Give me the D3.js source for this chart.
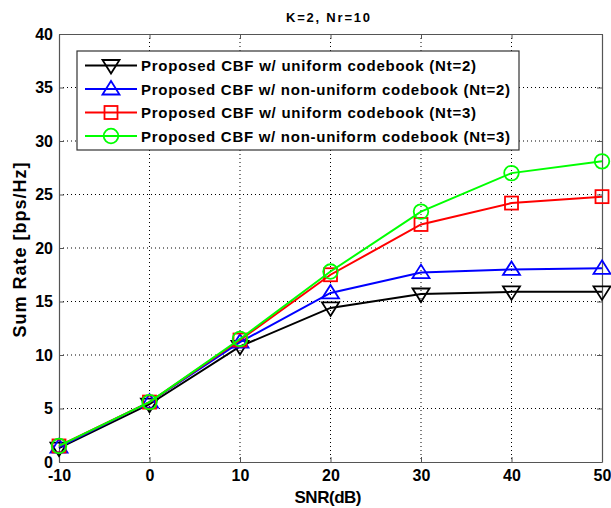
<!DOCTYPE html>
<html>
<head>
<meta charset="utf-8">
<script src="https://cdn.jsdelivr.net/npm/d3@7"></script>
<style>
  body { margin: 0; background: #fff; }
  text { font-family: "Liberation Sans", Arial, sans-serif; font-weight: bold; }
</style>
</head>
<body>
<div id="chart"></div>
<script>
// values
const snr = [-10, 0, 10, 20, 30, 40, 50];
const uniNt2 = [1.3, 5.4, 10.8, 14.4, 15.7, 15.9, 15.9];
const nonUniNt2 = [1.4, 5.6, 11.2, 15.8, 17.7, 18.0, 18.1];
const uniNt3 = [1.5, 5.6, 11.4, 17.5, 22.2, 24.2, 24.8];
const nonUniNt3 = [1.5, 5.6, 11.5, 17.8, 23.4, 27.0, 28.1];
const xTicks = [-10, 0, 10, 20, 30, 40, 50];
const yTicks = [0, 5, 10, 15, 20, 25, 30, 35, 40];

const series = [
  { name: "Proposed CBF w/ uniform codebook (Nt=2)", vals: uniNt2, color: "#000000", marker: "down" },
  { name: "Proposed CBF w/ non-uniform codebook (Nt=2)", vals: nonUniNt2, color: "#0000ff", marker: "up" },
  { name: "Proposed CBF w/ uniform codebook (Nt=3)", vals: uniNt3, color: "#ff0000", marker: "square" },
  { name: "Proposed CBF w/ non-uniform codebook (Nt=3)", vals: nonUniNt3, color: "#00ff00", marker: "circle" }
];

const W = 611, H = 508;
const mLeft = 59, mRight = 602, mTop = 34, mBottom = 462;

const svg = d3.select('#chart')
    .append('svg')
    .attr('width', W)
    .attr('height', H)
    .style('background-color', 'white');

const x = d3.scaleLinear().domain([-10, 50]).range([mLeft, mRight]);
const y = d3.scaleLinear().domain([0, 40]).range([mBottom, mTop]);

// grid lines (dotted)
svg.append('g')
  .selectAll('line')
  .data(xTicks.slice(1, -1))
  .enter().append('line')
  .attr('x1', d => x(d)).attr('x2', d => x(d))
  .attr('y1', mTop).attr('y2', mBottom)
  .attr('stroke', '#000').attr('stroke-width', 1)
  .attr('stroke-dasharray', '1,3');

svg.append('g')
  .selectAll('line')
  .data(yTicks.slice(1, -1))
  .enter().append('line')
  .attr('x1', mLeft).attr('x2', mRight)
  .attr('y1', d => y(d)).attr('y2', d => y(d))
  .attr('stroke', '#000').attr('stroke-width', 1)
  .attr('stroke-dasharray', '1,3');

// axes with inward ticks
const fmt = d => String(d);
const xAxis = svg.append('g')
  .attr('transform', `translate(0,${mBottom})`)
  .call(d3.axisBottom(x).tickValues(xTicks).tickFormat(fmt).tickSizeInner(-5).tickSizeOuter(0).tickPadding(8));
const xAxisTop = svg.append('g')
  .attr('transform', `translate(0,${mTop})`)
  .call(d3.axisTop(x).tickValues(xTicks).tickSizeInner(-5).tickSizeOuter(0).tickFormat(''));
const yAxis = svg.append('g')
  .attr('transform', `translate(${mLeft},0)`)
  .call(d3.axisLeft(y).tickValues(yTicks).tickFormat(fmt).tickSizeInner(-5).tickSizeOuter(0).tickPadding(6));
const yAxisRight = svg.append('g')
  .attr('transform', `translate(${mRight},0)`)
  .call(d3.axisRight(y).tickValues(yTicks).tickSizeInner(-5).tickSizeOuter(0).tickFormat(''));

[xAxis, xAxisTop, yAxis, yAxisRight].forEach(a => {
  a.select('.domain').attr('stroke', '#555').attr('stroke-width', 1.2);
  a.selectAll('.tick line').attr('stroke', '#555');
  a.selectAll('.tick text').attr('fill', '#000').style('font-size', '16px')
    .style('font-family', '"Liberation Sans", Arial, sans-serif').style('font-weight', 'bold');
});

// marker drawing
function drawMarker(g, type, color) {
  if (type === 'circle') {
    g.append('circle').attr('r', 7.3);
  } else if (type === 'square') {
    g.append('rect').attr('x', -6.5).attr('y', -6.5).attr('width', 13).attr('height', 13);
  } else if (type === 'up') {
    g.append('path').attr('d', 'M0,-8L8.5,5.5L-8.5,5.5Z');
  } else {
    g.append('path').attr('d', 'M0,8L8.5,-5.5L-8.5,-5.5Z');
  }
  g.selectAll('*').attr('fill', 'none').attr('stroke', color).attr('stroke-width', 1.8);
}

const line = d3.line().x((d, i) => x(snr[i])).y(d => y(d));

series.forEach(s => {
  svg.append('path')
    .datum(s.vals)
    .attr('d', line)
    .attr('fill', 'none')
    .attr('stroke', s.color)
    .attr('stroke-width', 2);
  s.vals.forEach((v, i) => {
    const g = svg.append('g').attr('transform', `translate(${x(snr[i])},${y(v)})`);
    drawMarker(g, s.marker, s.color);
  });
});

// legend
const lg = svg.append('g');
lg.append('rect')
  .attr('x', 77).attr('y', 51).attr('width', 442).attr('height', 99)
  .attr('fill', '#fff').attr('stroke', '#333').attr('stroke-width', 1.2);

// legend text widths as seen in the figure (MATLAB-ish spacing)
const legendWidths = [335, 369, 335, 369];

series.forEach((s, i) => {
  const ly = 65.5 + i * 23.5;
  lg.append('line')
    .attr('x1', 85).attr('x2', 137).attr('y1', ly).attr('y2', ly)
    .attr('stroke', s.color).attr('stroke-width', 2);
  const g = lg.append('g').attr('transform', `translate(111,${ly})`);
  drawMarker(g, s.marker, s.color);
  lg.append('text')
    .attr('x', 141).attr('y', ly + 5.5)
    .attr('textLength', legendWidths[i])
    .attr('lengthAdjust', 'spacing')
    .style('font-size', '15px')
    .text(s.name);
});

// title and axis labels
svg.append('text')
  .attr('x', 328).attr('y', 22)
  .attr('text-anchor', 'middle')
  .attr('textLength', 84)
  .attr('lengthAdjust', 'spacing')
  .style('font-size', '13px')
  .text('K=2, Nr=10');

svg.append('text')
  .attr('x', 328).attr('y', 503)
  .attr('text-anchor', 'middle')
  .attr('textLength', 67)
  .attr('lengthAdjust', 'spacing')
  .style('font-size', '17px')
  .text('SNR(dB)');

svg.append('text')
  .attr('transform', `translate(26,250) rotate(-90)`)
  .attr('text-anchor', 'middle')
  .attr('textLength', 175)
  .attr('lengthAdjust', 'spacing')
  .style('font-size', '18px')
  .text('Sum Rate [bps/Hz]');
</script>
</body>
</html>
